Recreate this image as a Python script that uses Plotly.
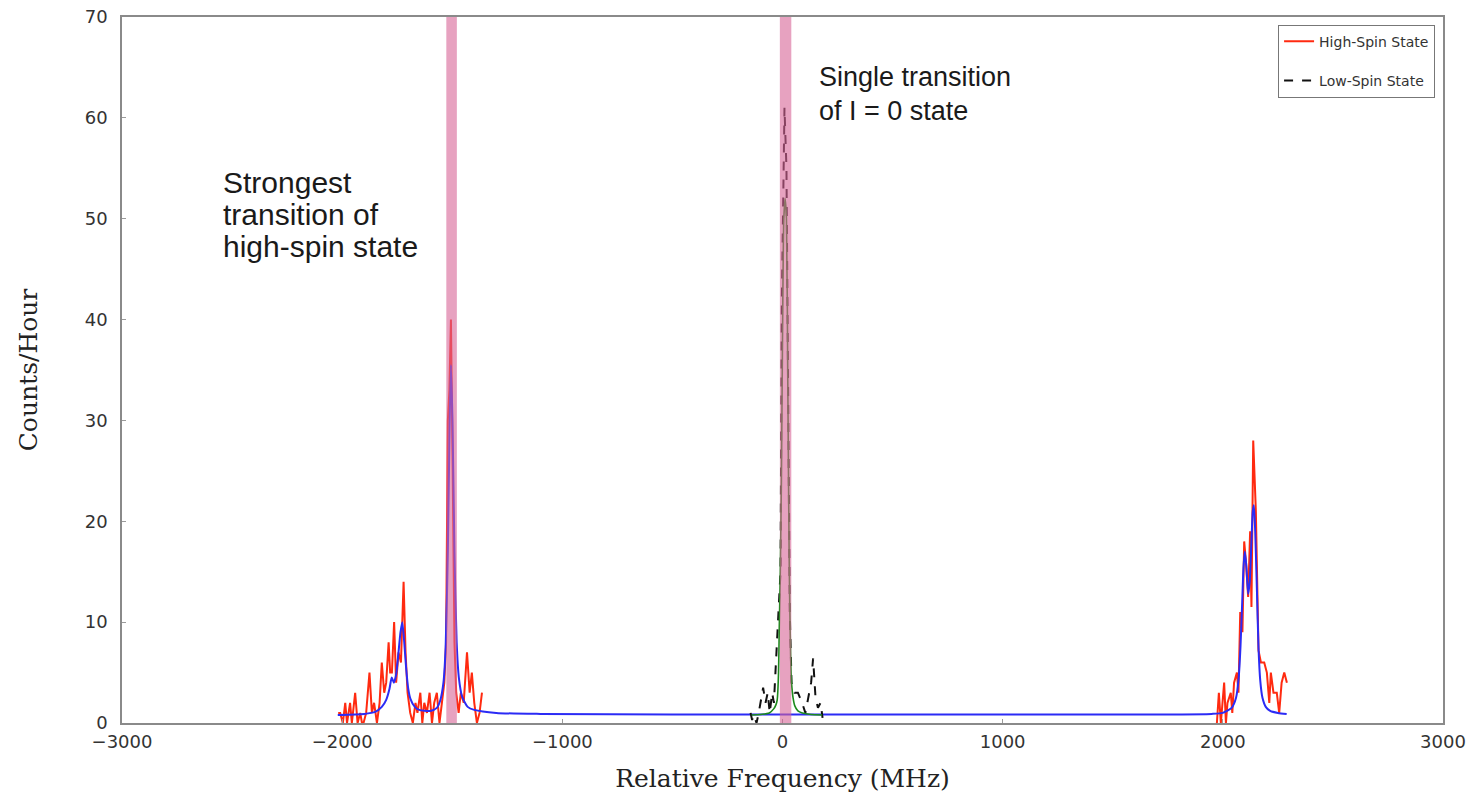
import plotly.graph_objects as go

# ---------------- data ----------------
# High-spin measured data (red)
hs_left_x = [-2018, -2009, -1997, -1986, -1978, -1971, -1964, -1956, -1948, -1941, -1930, -1918,
             -1910, -1903, -1891, -1876, -1865, -1855, -1842, -1830, -1820, -1809, -1800, -1789,
             -1782, -1774, -1764, -1755, -1744, -1733, -1721, -1712, -1703, -1691, -1679, -1667,
             -1658, -1645, -1636, -1627, -1615, -1603, -1592, -1582, -1570, -1558, -1547, -1536,
             -1528, -1520, -1513, -1506, -1498, -1490, -1482, -1471, -1461, -1448, -1433, -1421,
             -1411, -1400, -1388, -1376, -1365]
hs_left_y = [1, 1, 0, 2, 0, 1, 2, 0, 2, 3, 0, 1,
             0, 0, 1, 5, 1, 2, 0, 2, 6, 3, 4, 8,
             5, 5, 10, 4, 7, 6, 14, 7, 3, 1, 0, 2,
             1, 3, 0, 2, 1, 3, 0, 2, 3, 0, 2, 4,
             8, 30, 33, 40, 25, 8, 3, 1, 3, 2, 7, 3,
             5, 2, 0, 1, 3]
hs_right_x = [1973, 1982, 1991, 2006, 2014, 2021, 2036, 2043, 2051, 2064, 2071, 2079, 2089, 2097,
              2105, 2115, 2124, 2130, 2138, 2150, 2162, 2173, 2188, 2200, 2211, 2218, 2230,
              2245, 2256, 2267, 2279, 2291]
hs_right_y = [0, 3, 0, 4, 0, 2, 3, 1, 4, 5, 3, 11, 9, 18,
              16, 12.5, 19, 11.5, 28, 21, 7.2, 6, 6, 5, 2, 5, 3,
              3, 1, 4, 5, 4]

# Low-spin measured data (black dashed)
ls_x = [-145, -138, -130, -118, -108, -97, -88, -77, -67, -58, -47, -39, -32, -24, -17,
        -9, -3, 5, 9, 18, 26, 33, 41, 55, 70, 89, 104, 120, 130, 139, 150, 161, 173, 182]
ls_y = [1, 0.3, 0.8, 0, 1, 2.3, 3.5, 2, 3, 1, 3, 2, 5, 8, 11.4,
        15, 42, 55, 61, 55, 25, 11, 4, 3, 3, 2, 1, 3, 4, 6.4, 2.5, 1.5, 2, 0.5]

# Fit to high-spin data (blue)
fit_hs_x = [-2020, -1900, -1850, -1820, -1800, -1785, -1775, -1765, -1755, -1745, -1735, -1727,
            -1718, -1710, -1700, -1690, -1670, -1650, -1600, -1570, -1555, -1540, -1530, -1520,
            -1513, -1506, -1499, -1490, -1480, -1470, -1455, -1430, -1400, -1300, -1100,
            -500, 500, 1700, 1950, 2000, 2040, 2060, 2072, 2080, 2088, 2094, 2100, 2107, 2115,
            2122, 2130, 2136, 2141, 2147, 2155, 2162, 2170, 2180, 2195, 2215, 2250, 2290]
fit_hs_y = [0.8, 0.9, 1.1, 1.6, 2.3, 3.4, 4.5, 4.0, 4.8, 6.8, 9.0, 10.0,
            8.0, 5.6, 3.4, 2.4, 1.6, 1.3, 1.2, 1.5, 2.2, 4.0, 7.5, 17,
            28, 35.5, 30, 17, 8, 4.5, 2.6, 1.6, 1.3, 1.0, 0.9,
            0.85, 0.85, 0.85, 0.9, 1.0, 1.5, 2.5, 4.5, 7.5, 12, 15.5, 17, 15.5, 12.8,
            14, 18, 21, 21.6, 19, 13, 7.5, 4.2, 2.5, 1.6, 1.2, 1.0, 0.9]

# Fit to low-spin data (green)
fit_ls_x = [-140, -100, -60, -40, -30, -24, -18, -15, -10, -5, 0, 6, 12, 18, 24, 30, 33,
            37, 41, 48, 56, 70, 90, 130, 180]
fit_ls_y = [0.8, 0.85, 1.0, 1.4, 1.8, 2.3, 5, 9, 15, 24, 38, 50, 52, 50, 34, 17, 11.6,
            6.5, 4, 2.5, 1.7, 1.2, 1.0, 0.85, 0.8]

# Highlighted transitions (pink bands): [start, end] in MHz
bands = [[-1527, -1479], [-12, 40]]

# Annotation texts (one entry per line)
note_left_lines = ["Strongest", "transition of", "high-spin state"]
note_left_y = [53.6, 50.4, 47.2]
note_right_lines = ["Single transition", "of I = 0 state"]
note_right_y = [64.1, 60.7]

x_ticks = [-3000, -2000, -1000, 0, 1000, 2000, 3000]
x_labels = ["\u22123000", "\u22122000", "\u22121000", "0", "1000", "2000", "3000"]
y_ticks = [0, 10, 20, 30, 40, 50, 60, 70]

# ---------------- figure ----------------
fig = go.Figure()

fig.add_trace(go.Scatter(x=hs_left_x, y=hs_left_y, mode="lines", name="High-Spin State",
                         line=dict(color="#ff2a10", width=2), legendgroup="a"))
fig.add_trace(go.Scatter(x=hs_right_x, y=hs_right_y, mode="lines", showlegend=False,
                         line=dict(color="#ff2a10", width=2), legendgroup="a"))
fig.add_trace(go.Scatter(x=fit_hs_x, y=fit_hs_y, mode="lines", showlegend=False,
                         line=dict(color="#2b2bf5", width=2, shape="spline", smoothing=0.6)))
fig.add_trace(go.Scatter(x=ls_x, y=ls_y, mode="lines", name="Low-Spin State",
                         line=dict(color="#111111", width=2, dash="dash"), legendgroup="b"))
fig.add_trace(go.Scatter(x=fit_ls_x, y=fit_ls_y, mode="lines", showlegend=False,
                         line=dict(color="#1c8a1c", width=1.6, shape="spline", smoothing=0.6)))

for b0, b1 in bands:
    fig.add_shape(type="rect", xref="x", yref="paper", x0=b0, x1=b1, y0=0, y1=1,
                  fillcolor="rgba(215,100,150,0.6)", line=dict(width=0), layer="above")

note_font = "Liberation Sans, Arial, sans-serif"
for txt, yy in zip(note_left_lines, note_left_y):
    fig.add_annotation(x=-2548, y=yy, xref="x", yref="y", text=txt, showarrow=False,
                       xanchor="left", yanchor="middle", align="left", borderpad=0,
                       font=dict(family=note_font, size=30, color="#1a1a1a"))
for txt, yy in zip(note_right_lines, note_right_y):
    fig.add_annotation(x=162, y=yy, xref="x", yref="y", text=txt, showarrow=False,
                       xanchor="left", yanchor="middle", align="left", borderpad=0,
                       font=dict(family=note_font, size=27, color="#1a1a1a"))

axis_common = dict(showline=True, linecolor="#8a8a8a", linewidth=1.5, mirror=True,
                   ticks="inside", ticklen=4, tickcolor="#9a9a9a", showgrid=False, zeroline=False,
                   automargin=False, ticklabeloverflow="allow",
                   tickfont=dict(family="DejaVu Sans, sans-serif", size=18, color="#333333"))

fig.update_xaxes(range=[-3000, 3000], tickvals=x_ticks, ticktext=x_labels,
                 ticklabelstandoff=2,
                 title=dict(text="Relative Frequency (MHz)", standoff=18,
                            font=dict(family="DejaVu Serif, serif", size=25, color="#222222")),
                 **axis_common)
fig.update_yaxes(range=[0, 70], tickvals=y_ticks, ticklabelstandoff=9,
                 title=dict(text="Counts/Hour", standoff=40,
                            font=dict(family="DejaVu Serif, serif", size=25, color="#222222")),
                 **axis_common)

fig.update_layout(
    width=1471, height=798,
    margin=dict(l=122, r=28, t=17, b=75),
    plot_bgcolor="white", paper_bgcolor="white",
    hovermode=False,
    legend=dict(x=0.994, y=0.989, xanchor="right", yanchor="top",
                bgcolor="white", bordercolor="#777777", borderwidth=1,
                font=dict(family="DejaVu Sans, sans-serif", size=14, color="#333333"),
                tracegroupgap=18),
)

fig.write_html("out.html", config={"displayModeBar": False},
               post_script="document.body.style.margin='0px';")
